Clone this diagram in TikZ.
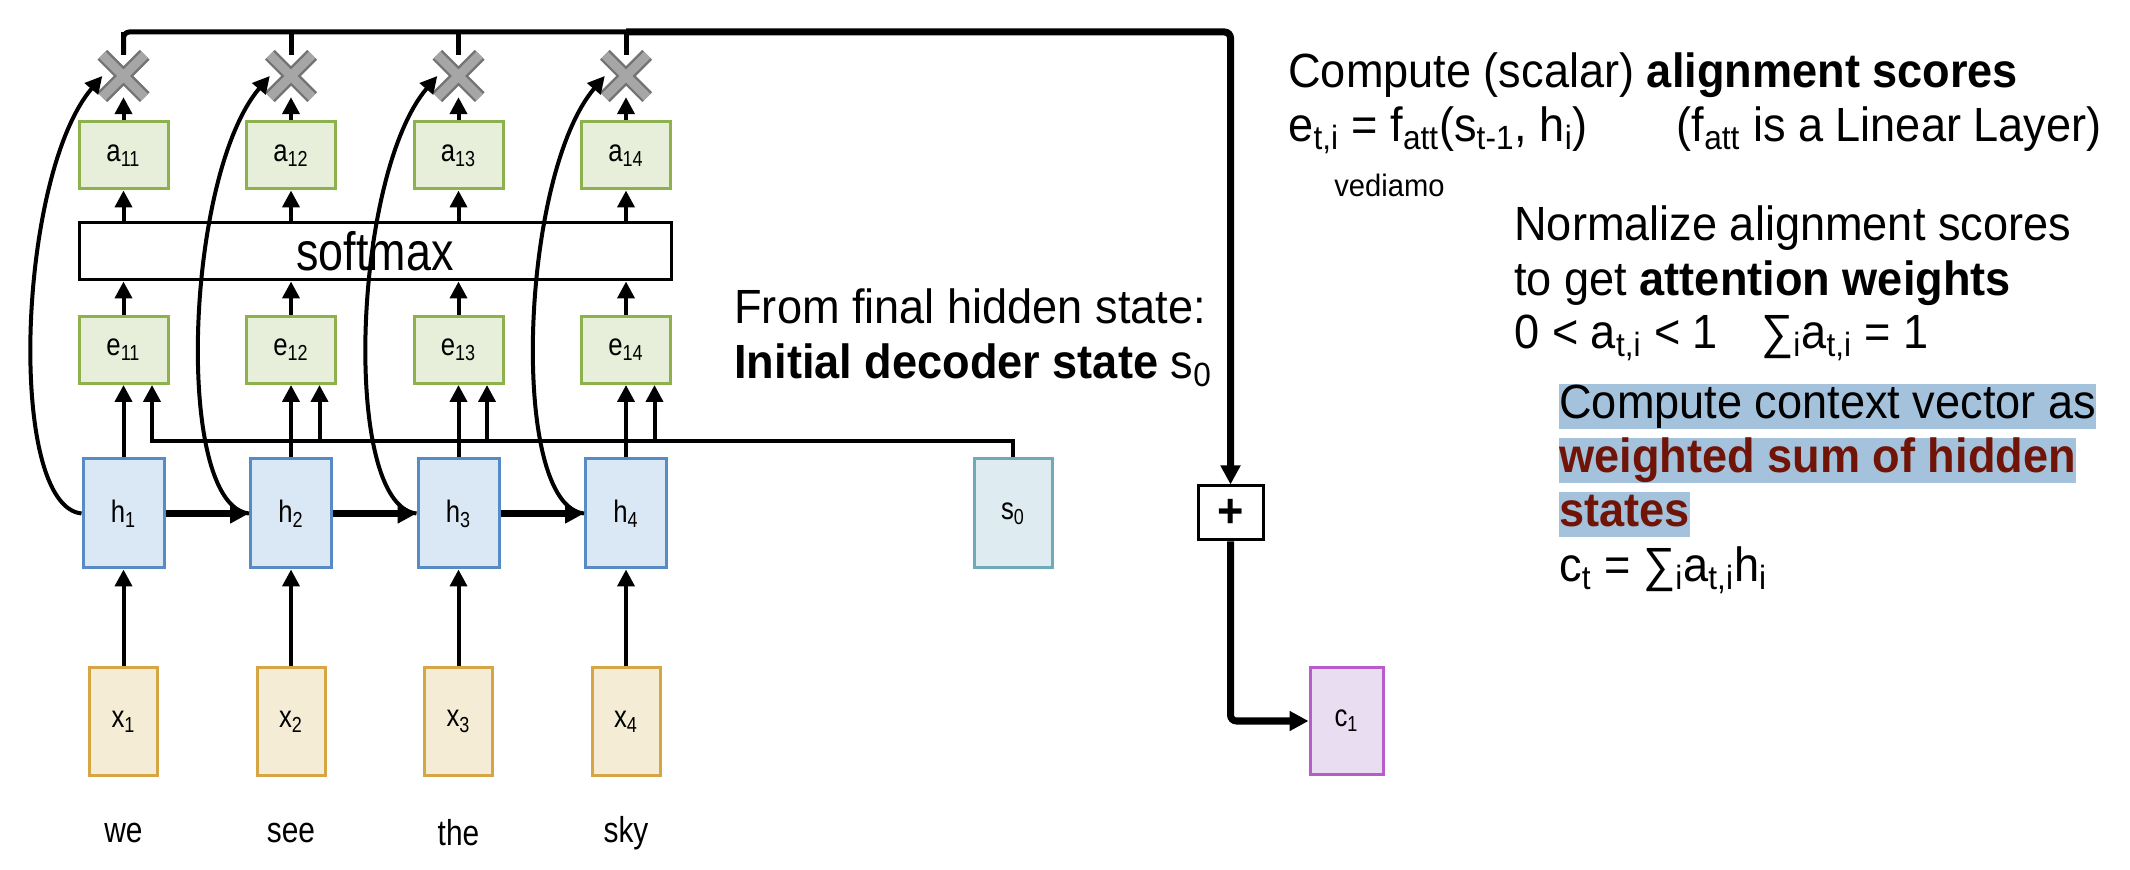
\documentclass[tikz,border=0pt]{standalone}
\usepackage{fontspec}
\setmainfont[FakeStretch=0.94]{Liberation Sans}
\newfontfamily\diagfont[FakeStretch=0.83]{Liberation Sans}
\usetikzlibrary{arrows.meta,shapes.misc}

\definecolor{hfill}{RGB}{218,231,245}
\definecolor{hdraw}{RGB}{88,138,196}
\definecolor{xfill}{RGB}{245,236,214}
\definecolor{xdraw}{RGB}{214,166,70}
\definecolor{gfill}{RGB}{231,239,218}
\definecolor{gdraw}{RGB}{141,177,76}
\definecolor{sfill}{RGB}{222,235,240}
\definecolor{sdraw}{RGB}{110,170,186}
\definecolor{cfill}{RGB}{233,221,242}
\definecolor{cdraw}{RGB}{184,92,204}
\definecolor{hl}{RGB}{164,194,220}
\definecolor{darkred}{RGB}{112,20,8}

\begin{document}
\begin{tikzpicture}[x=0.5pt,y=-0.5pt,
  box/.style={draw,line width=1.5pt,inner sep=0pt,font=\diagfont\fontsize{15.5}{17}\selectfont},
  hbox/.style={box,draw=hdraw,fill=hfill,minimum width=40.5pt,minimum height=54.5pt},
  xbox/.style={box,draw=xdraw,fill=xfill,minimum width=34pt,minimum height=53.5pt},
  gbox/.style={box,draw=gdraw,fill=gfill,minimum width=44.5pt,minimum height=33.5pt},
  mul/.style={cross out,draw=black!55,double=black!35,double distance=4.5pt,line width=1.2pt,minimum size=20pt,inner sep=0pt},
  arr/.style={line width=2pt,-{Triangle[length=8.5pt,width=8.5pt]}},
  thk/.style={line width=3.5pt,-{Triangle[length=9.5pt,width=9.5pt]}},
  big/.style={font=\fontsize{24}{28}\selectfont,anchor=base west,inner sep=0pt},
  hlbox/.style={big,fill=hl,text height=17.5pt,text depth=5pt}]

\useasboundingbox (0,0) rectangle (2130,870);

\foreach \i/\w in {1/we,2/see,3/the,4/sky}{
  \pgfmathsetmacro\cx{123.5+167.5*(\i-1)}
  \node[xbox] (x\i) at (\cx,721.5) {x\textsubscript{\i}};
  \node[font=\diagfont\fontsize{18}{20}\selectfont] (w\i) at (\cx,833) {\w};
  \node[hbox] (h\i) at (\cx,513.5) {h\textsubscript{\i}};
  \node[gbox] (e\i) at (\cx,350) {e\textsubscript{1\i}};
  \node[gbox] (a\i) at (\cx,155.5) {a\textsubscript{1\i}};
  \node[mul] (m\i) at (\cx,76) {};
  \coordinate (k\i) at (\cx+28.5,441);
}
\node[box,fill=white,minimum width=296pt,minimum height=28.5pt,font=\diagfont\fontsize{27}{28}\selectfont] (sm) at (375,251.5) {softmax};
\node[box,draw=sdraw,fill=sfill,minimum width=39pt,minimum height=54.5pt] (s0) at (1013,513.5) {s\textsubscript{0}};
\node[box,draw=black,minimum width=32.5pt,minimum height=27pt,font=\fontsize{24}{24}\selectfont\bfseries] (p) at (1230.5,513) {+};
\node[box,draw=cdraw,fill=cfill,minimum width=36.5pt,minimum height=53pt] (c1) at (1346.5,721) {c\textsubscript{1}};
\coordinate (top) at (1230,32);

\foreach \i in {1,...,4}{
  \draw[arr] (x\i) -- (h\i);
  \draw[arr] (h\i) -- (e\i);
  \draw[arr] (e\i) -- (e\i.north |- sm.south);
  \draw[arr] (a\i.south |- sm.north) -- (a\i);
  \draw[arr] (a\i) -- (m\i);
  \draw[arr] (h\i.west) .. controls +(-75,-8) and +(-85,100) .. (m\i.west);
  \draw[line width=2.5pt] (m\i.north) -- (m\i.north |- top);
}
\foreach \i/\j in {1/2,2/3,3/4}
  \draw[thk] (h\i) -- (h\j);
\draw[arr] (s0.north) |- (k1) -- (k1 |- e1.south);
\foreach \i in {2,3,4}
  \draw[arr] (k\i) -- (k\i |- e\i.south);
\draw[line width=2.5pt,rounded corners=3pt] (m1.north) |- (m4.north |- top);
\draw[thk,rounded corners=3pt] (m4.north |- top) -| (p);
\draw[thk,rounded corners=3pt] (p) |- (c1);

\node[big] (t1) at (1288,88) {Compute (scalar) \textbf{alignment scores}};
\node[big] (t2) at (1288,142) {e\textsubscript{t,i} = f\textsubscript{att}(s\textsubscript{t-1}, h\textsubscript{i})};
\node[big,anchor=base east] (t3) at (2102,142) {(f\textsubscript{att} is a Linear Layer)};
\node[big,font=\fontsize{15.5}{16}\selectfont] (t4) at (1334,197) {vediamo};
\node[big] (t5) at (1514,241) {Normalize alignment scores};
\node[big] (t6) at (1514,296) {to get \textbf{attention weights}};
\node[big] (t7) at (1514,349) {0 < a\textsubscript{t,i} < 1\hspace{0.9em}∑\textsubscript{i}a\textsubscript{t,i} = 1};
\node[hlbox] (t8) at (1559,419) {Compute context vector as\hspace{0.35em}};
\node[hlbox,text=darkred] (t9) at (1559,473) {\textbf{weighted sum of hidden}\hspace{0.3em}};
\node[hlbox,text=darkred] (t10) at (1559,527) {\textbf{states}};
\node[big] (t11) at (1559,582) {c\textsubscript{t} = ∑\textsubscript{i}a\textsubscript{t,i}h\textsubscript{i}};
\node[big] (t12) at (734,324) {From final hidden state:};
\node[big] (t13) at (734,379) {\textbf{Initial decoder state} s\textsubscript{0}};
\end{tikzpicture}
\end{document}
